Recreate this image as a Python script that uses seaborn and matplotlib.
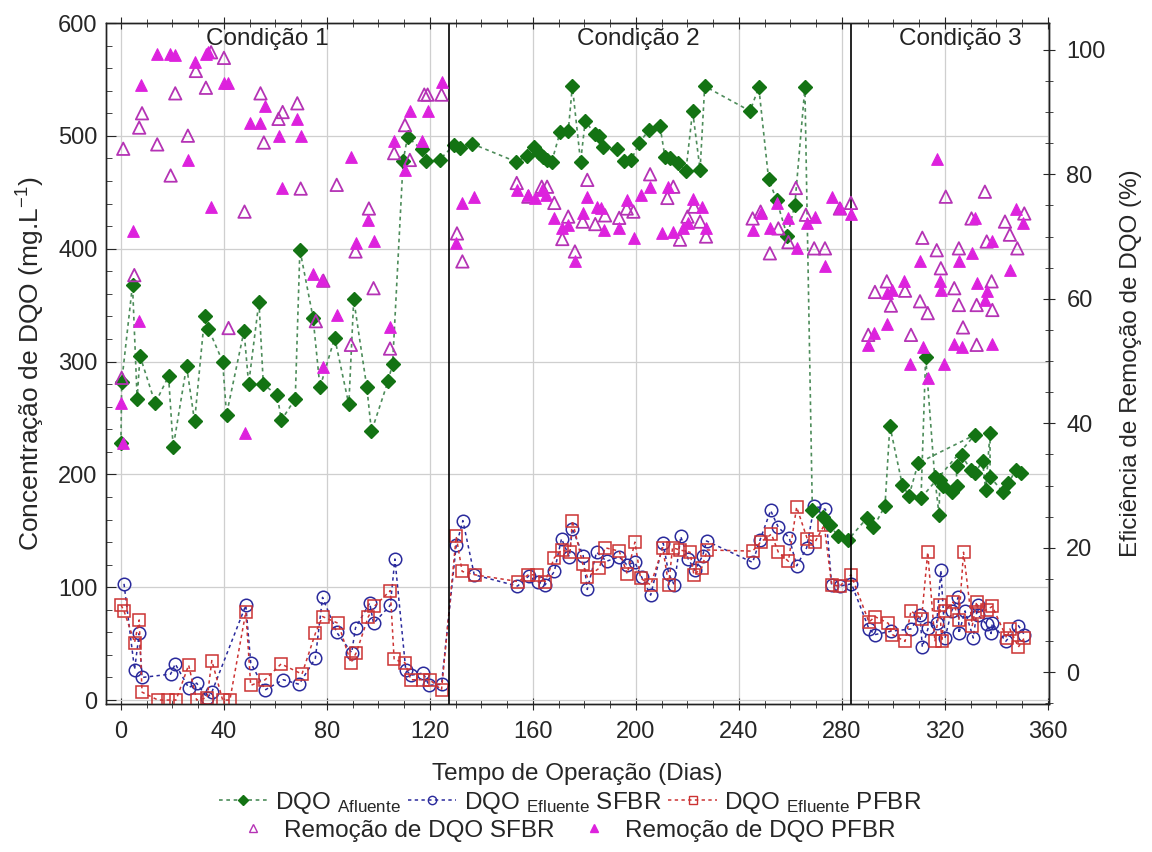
import matplotlib
matplotlib.use("Agg")
import matplotlib.pyplot as plt
from matplotlib.lines import Line2D
from matplotlib.ticker import MultipleLocator
import seaborn as sns

# ---- DQO afluente (mg/L) ----
afl_dia = [0, 0.3, 4.5, 6.3, 7.4, 13.3, 18.5, 20.3, 25.5, 28.6, 32.5, 34, 39.5, 41, 47.8,
           49.6, 53.6, 55.3, 60.7, 62.3, 67.7, 69.5, 74.6, 77.3, 83, 88.5, 90.4, 95.5, 97.3,
           103.8, 105.5, 109.6, 111.3, 116.8, 118.3, 123.8,
           129.4, 131.8, 136.4, 153.5, 157.5, 160.5, 162.3, 164, 165.6, 167.3, 170.5, 173.7,
           175.3, 178.5, 180.3, 184, 185.8, 187.3, 192.7, 195.3, 198.2, 201.3, 205, 209.3,
           211.3, 213.2, 216.3, 219.4, 222, 224.9, 226.7, 244.3, 247.7, 251.5, 254.6, 258.8,
           261.7, 265.6,
           268.5, 272.8, 275.3, 278.6, 282.4, 289.6, 292.2, 296.7, 298.6, 303.4, 306, 309.6,
           331.6, 310.7, 312.5, 316, 317.7, 318, 319.3, 322.6, 324.5, 324.5, 326.5, 330,
           331.6, 334.6, 335.8, 337.5, 337.5, 342.6, 344.6, 347.5, 349.7]
afl_dqo = [228, 282, 368, 267, 305, 263, 287, 224, 296, 247, 340, 329, 300, 253, 327,
           280, 353, 280, 270, 248, 267, 399, 339, 277, 321, 262, 355, 277, 238,
           283, 298, 478, 499, 488, 478, 479,
           492, 489, 493, 477, 482, 490, 485, 481, 479, 477, 503, 504,
           544, 477, 513, 502, 500, 490, 488, 478, 479, 494, 505, 509,
           481, 480, 476, 469, 522, 470, 544, 522, 543, 462, 443, 411,
           439, 543,
           168, 162, 155, 145, 142, 161, 153, 172, 243, 191, 181, 210,
           235, 179, 304, 198, 164, 195, 190, 184, 190, 207, 217, 204,
           201, 212, 186, 237, 198, 184, 192, 204, 201]

# ---- DQO efluente SFBR (mg/L) ----
sfbr_dia = [1.2, 5.3, 7.1, 8.2, 19.3, 21.1, 26.3, 29.4, 33.5, 35.3, 48.5, 50.4, 56, 63,
            69.2, 75.5, 78.3, 83.8, 89.6, 91.1, 96.6, 98.1, 104.6, 106.4, 110.6, 112.6,
            117.4, 119.6, 124.5,
            130.2, 132.8, 137.2, 154, 158.4, 161.8, 164.7, 168.3, 171.1, 174.1, 175.3,
            179.5, 181.1, 184.7, 188.6, 193.5, 196.4, 199.6, 202.2, 205.7, 210.6, 212.7,
            214.9, 217.4, 220.3, 222.9, 225.9, 227.4, 245.3, 248.2, 252.3, 255.3, 259.5,
            262.4, 266.3, 269.2, 273.6,
            276, 279.2, 283.7, 290.5, 292.8, 299, 306.8, 310.3, 311.2, 313.5, 316.8, 318.4,
            320, 322.6, 325.2, 325.4, 327.8, 331, 332.7, 333, 336.2, 337.9, 338.4, 343.6,
            348.5, 350.8]
sfbr_dqo = [103, 27, 59, 20, 23, 32, 11, 15, 2, 7, 84, 33, 9, 18,
            14, 37, 91, 60, 42, 64, 86, 68, 84, 125, 27, 22,
            24, 13, 14,
            137, 159, 111, 101, 110, 105, 102, 114, 143, 127, 152,
            128, 98, 131, 123, 127, 120, 122, 109, 93, 139, 112,
            102, 145, 125, 115, 128, 141, 122, 142, 168, 153, 144,
            119, 135, 172, 169,
            102, 101, 103, 63, 58, 61, 63, 75, 47, 64, 68, 115,
            55, 79, 91, 59, 79, 55, 84, 75, 67, 59, 68, 52,
            66, 58]

# ---- DQO efluente PFBR (mg/L) ----
pfbr_dia = [0.1, 1.2, 5.3, 7.1, 8.2, 14.4, 18.3, 21.4, 26.3, 29.4, 33.5, 35.3, 39.5, 42.3,
            48.5, 50.4, 56, 62.2, 70.3, 75.5, 78.3, 84.4, 89.3, 91.4, 96.1, 98.4, 104.6,
            106.1, 110.3, 112.6, 117.4, 120, 124.5,
            130.2, 132.5, 137.5, 154.3, 158.2, 161.4, 164.7, 168.3, 171.1, 174.4, 175.3,
            179.3, 181.1, 185.8, 188, 193.5, 196.6, 199.6, 201.8, 205.7, 210.4, 212.7,
            214.2, 217.1, 221, 222.5, 225.5, 227.7, 245.3, 248.4, 252.6, 255.3, 259.2,
            262.4, 266.5, 269.5, 273.1,
            276, 279.2, 283.5, 290.5, 292.8, 298, 299.6, 304.5, 306.8, 310.9, 313.3, 316.1,
            318, 318.7, 320, 323.2, 325.4, 327.2, 330.6, 332.3, 333, 336.2, 338.4, 344,
            345.2, 348.5, 350.8]
pfbr_dqo = [84, 79, 51, 71, 7, 0, 0, 0, 31, 0, 2, 35, 0, 0,
            78, 13, 18, 32, 23, 59, 74, 68, 33, 42, 74, 83, 97,
            36, 33, 18, 18, 18, 9,
            145, 114, 111, 105, 111, 111, 105, 126, 133, 131, 159,
            121, 109, 117, 135, 132, 112, 140, 108, 102, 135, 102,
            135, 133, 131, 111, 117, 133, 132, 140, 147, 131, 123,
            171, 143, 140, 155,
            102, 101, 111, 69, 74, 68, 58, 52, 79, 72, 131, 52,
            84, 52, 79, 87, 71, 131, 66, 87, 78, 80, 83, 55,
            63, 47, 55]

# ---- Remoção de DQO SFBR (%) ----
rem_sfbr_dia = [0.3, 0.9, 5.2, 7.1, 8.2, 14.1, 19.3, 21.1, 26, 29.1, 33, 35, 40, 41.8, 48,
                54.2, 55.5, 61.2, 62.8, 68.5, 69.8, 75.7, 78.6, 83.8, 89.3, 91.1, 96.3, 98.1,
                104.5, 106.1, 110.3, 112.2, 117.8, 119.1, 124.5,
                130.5, 132.6, 153.7, 158.2, 163.4, 165.5, 168.3, 171.4, 173.7, 176.3, 179.3,
                181.1, 184.2, 188, 193.5, 196.4, 199, 205.5, 212.2, 214.5, 217.1, 220, 222.5,
                224.9, 227.2, 245.3, 248.4, 252, 255.3, 259.2, 262.1, 266, 269.2, 273.4,
                279.2, 283.5,
                290.2, 292.8, 297.4, 299, 304.5, 306.8, 310.3, 311.2, 313.3, 316.8, 318.4,
                320.3, 323.6, 325.4, 325.4, 327, 330.3, 332.3, 332.3, 335.5, 336.2, 338.1,
                338.4, 343.3, 345.2, 348.1, 350.8]
rem_sfbr = [47.3, 84.1, 63.8, 87.5, 89.8, 84.8, 79.8, 93, 86.2, 96.6, 93.9, 99.6, 98.7, 55.3, 74,
            93, 85.1, 88.9, 90, 91.4, 77.7, 56.4, 62.9, 78.3, 52.6, 67.6, 74.5, 61.7,
            52, 83.4, 87.9, 82.3, 92.8, 92.8, 92.8,
            70.5, 66, 78.6, 76.4, 78, 78, 75.4, 69.6, 73.2, 67.6, 72.4,
            79.1, 72, 73.4, 73, 74.5, 74, 80, 76.2, 78, 69.5, 73.2, 74.8,
            72.4, 70, 72.9, 74, 67.3, 71.3, 69.1, 77.8, 73.5, 68.1, 68.1,
            74.5, 75.4,
            54.2, 61.1, 62.8, 58.9, 61.3, 54.2, 59.6, 69.8, 57.7, 67.8, 64.9,
            76.4, 61.7, 68.1, 59, 55.4, 72.9, 52.6, 59, 77.2, 69.2, 62.8,
            58.2, 72.4, 70.3, 68.1, 73.7]

# ---- Remoção de DQO PFBR (%) ----
rem_pfbr_dia = [0, 1, 4.8, 7.1, 7.9, 13.9, 19, 21.1, 26, 28.9, 33, 34, 35, 40, 41.6, 48, 50.1,
                54.2, 55.8, 61.5, 62.5, 68.2, 70, 74.7, 78, 78.3, 84, 89.3, 91.1, 96.1, 98.1,
                104.5, 106.1, 110.3, 112.2, 117.1, 119.1, 124.5,
                130.2, 132.3, 137.2, 153.7, 158.2, 160.8, 163.4, 165, 168, 171.1, 173.7,
                176.5, 179.5, 180.8, 185, 186.3, 187.6, 193.5, 196.4, 199.2, 201.8, 205.5,
                210, 212.5, 214.5, 218.1, 220.3, 222.2, 225.5, 227.2, 245.3, 248.4, 252,
                254.9, 259.2, 262.4, 266.5, 269.5, 273.4, 276, 279.2, 283.5,
                290.2, 292.5, 297.4, 297.4, 299.3, 304.2, 306.4, 310.3, 311.5, 313.3, 316.8,
                318, 318.4, 319.8, 323.6, 325.4, 326.5, 330.6, 331.6, 332.3, 335.7, 336.2,
                338.1, 338.1, 345.2, 347.5, 350.4]
rem_pfbr = [43.2, 36.8, 70.9, 56.4, 94.4, 99.4, 99.4, 99.2, 82.3, 98.1, 99.4, 99.6, 74.8, 94.6,
            94.7, 38.5, 88.2, 88.2, 91, 86.2, 77.8, 88.9, 86.1, 63.9, 63, 49.1, 57.4, 82.7,
            68.9, 72.7, 69.2, 55.5, 85.3, 80.7, 90.2, 85.4, 90.2, 94.9,
            68.9, 75.4, 76.4, 77.5, 76.7, 76.2, 77.4, 76.7, 72.9, 71.3, 71.9,
            66, 73.7, 76.4, 74.8, 74.6, 71.1, 71.3, 75.9, 69.8, 76.7, 77.9,
            70.5, 77.9, 70.8, 71.3, 72.1, 76, 74.8, 71.3, 71.1, 73.7, 71.3,
            75.4, 72.9, 68.1, 72.1, 73.2, 65.3, 76.3, 74.6, 73.6,
            52.6, 54.5, 56, 61, 61.4, 62.8, 49.6, 66.1, 52.3, 47.2, 82.5,
            62.8, 61.4, 49.6, 52.8, 66, 52.3, 67.3, 72.9, 62.5, 59.8, 61.3,
            69.2, 52.8, 64.6, 74.4, 72.1]

condicoes = ["Condição 1", "Condição 2", "Condição 3"]
condicoes_x = [57, 201, 326]
limites = [127.5, 283.5]

# ---- style ----
sns.set_style("ticks")
plt.rcParams["font.family"] = ["Liberation Sans", "DejaVu Sans"]
plt.rcParams["mathtext.fontset"] = "custom"
plt.rcParams["mathtext.rm"] = "Liberation Sans"
plt.rcParams["mathtext.it"] = "Liberation Sans:italic"
plt.rcParams["axes.edgecolor"] = "#222222"
plt.rcParams["axes.linewidth"] = 1.0

FS_TICK = 17
FS_LABEL = 17.5
FS_LEG = 17.5

c_afl, c_afl_line = "#137313", "#4d8c5a"
c_sfbr = "#2a2a9c"
c_pfbr = "#cc3333"
c_rem_open = "#b533b5"
c_rem_fill = "#dd22dd"

fig = plt.figure(figsize=(11.52, 8.52), dpi=100)
ax = fig.add_axes([0.092, 0.1737, 0.8186, 0.7993])
ax2 = ax.twinx()

dash = (0, (2.2, 2.2))
sns.lineplot(x=afl_dia, y=afl_dqo, ax=ax, sort=False, estimator=None, color=c_afl_line,
             linestyle=dash, linewidth=1.2, marker="D", markersize=7.5,
             markerfacecolor=c_afl, markeredgecolor=c_afl, markeredgewidth=1, legend=False,
             zorder=4)
sns.lineplot(x=sfbr_dia, y=sfbr_dqo, ax=ax, sort=False, estimator=None, color=c_sfbr,
             linestyle=dash, linewidth=1.1, marker="o", markersize=9,
             markerfacecolor="none", markeredgecolor=c_sfbr, markeredgewidth=1.1,
             legend=False, zorder=3)
sns.lineplot(x=pfbr_dia, y=pfbr_dqo, ax=ax, sort=False, estimator=None, color=c_pfbr,
             linestyle=dash, linewidth=1.1, marker="s", markersize=8.5,
             markerfacecolor="none", markeredgecolor=c_pfbr, markeredgewidth=1.1,
             legend=False, zorder=3)

sns.scatterplot(x=rem_sfbr_dia, y=rem_sfbr, ax=ax2, marker="^", s=80, color=c_rem_open,
                facecolor="none", edgecolor=c_rem_open, linewidth=1.3, legend=False)
sns.scatterplot(x=rem_pfbr_dia, y=rem_pfbr, ax=ax2, marker="^", s=70, color=c_rem_fill,
                edgecolor=c_rem_fill, linewidth=0.8, legend=False)

# axes limits and ticks
ax.set_xlim(-5.8, 360.4)
ax.set_ylim(-3.5, 600)
ax2.set_ylim(-5.1, 104.3)

ax.xaxis.set_major_locator(MultipleLocator(40))
ax.xaxis.set_minor_locator(MultipleLocator(10))
ax.yaxis.set_major_locator(MultipleLocator(100))
ax.yaxis.set_minor_locator(MultipleLocator(20))
ax2.yaxis.set_major_locator(MultipleLocator(20))
ax2.yaxis.set_minor_locator(MultipleLocator(5))

ax.tick_params(axis="x", which="both", direction="inout", top=True, labelsize=FS_TICK,
               pad=8)
ax.tick_params(axis="x", which="major", length=9)
ax.tick_params(axis="x", which="minor", length=6)
ax.tick_params(axis="y", which="both", direction="in", labelsize=FS_TICK, pad=6)
ax.tick_params(axis="y", which="major", length=7)
ax.tick_params(axis="y", which="minor", length=4)
ax2.tick_params(axis="y", which="both", direction="inout", labelsize=FS_TICK, pad=8)
ax2.tick_params(axis="y", which="major", length=9)
ax2.tick_params(axis="y", which="minor", length=6)

ax.grid(True, which="major", color="#cfcfcf", linewidth=0.9)
ax.set_axisbelow(True)

for xv in limites:
    ax.axvline(xv, color="black", linewidth=1.2, zorder=5)

for txt, xv in zip(condicoes, condicoes_x):
    ax.text(xv, 586, txt, ha="center", va="center", fontsize=FS_LABEL, color="#222222")

ax.set_xlabel("Tempo de Operação (Dias)", fontsize=FS_LABEL, labelpad=14)
ax.set_ylabel("Concentração de DQO (mg.L$^{\\mathregular{-1}}$)", fontsize=19,
              labelpad=8)
ax2.set_ylabel("Eficiência de Remoção de DQO (%)", fontsize=FS_LABEL, labelpad=10)

# legend rows below the axis title
h1 = [
    Line2D([], [], color=c_afl_line, linestyle=dash, linewidth=1.2, marker="D",
           markersize=5, markerfacecolor=c_afl, markeredgecolor=c_afl),
    Line2D([], [], color=c_sfbr, linestyle=dash, linewidth=1.1, marker="o",
           markersize=6, markerfacecolor="none", markeredgecolor=c_sfbr),
    Line2D([], [], color=c_pfbr, linestyle=dash, linewidth=1.1, marker="s",
           markersize=6, markerfacecolor="none", markeredgecolor=c_pfbr),
]
l1 = ["DQO $_{\\mathregular{Afluente}}$",
      "DQO $_{\\mathregular{Efluente}}$ SFBR",
      "DQO $_{\\mathregular{Efluente}}$ PFBR"]
h2 = [
    Line2D([], [], linestyle="none", marker="^", markersize=6, markerfacecolor="none",
           markeredgecolor=c_rem_open),
    Line2D([], [], linestyle="none", marker="^", markersize=6, markerfacecolor=c_rem_fill,
           markeredgecolor=c_rem_fill),
]
l2 = ["Remoção de DQO SFBR", "Remoção de DQO PFBR"]

fig.legend(h1, l1, loc="center", bbox_to_anchor=(0.495, 0.058), ncol=3, frameon=False,
           fontsize=FS_LEG, handlelength=2.0, handletextpad=0.3, columnspacing=0.3,
           borderaxespad=0)
fig.legend(h2, l2, loc="center", bbox_to_anchor=(0.49, 0.025), ncol=2, frameon=False,
           fontsize=FS_LEG, handlelength=1.6, handletextpad=0.5, columnspacing=0.8,
           borderaxespad=0)

fig.savefig("out.png", dpi=100, facecolor="white")
